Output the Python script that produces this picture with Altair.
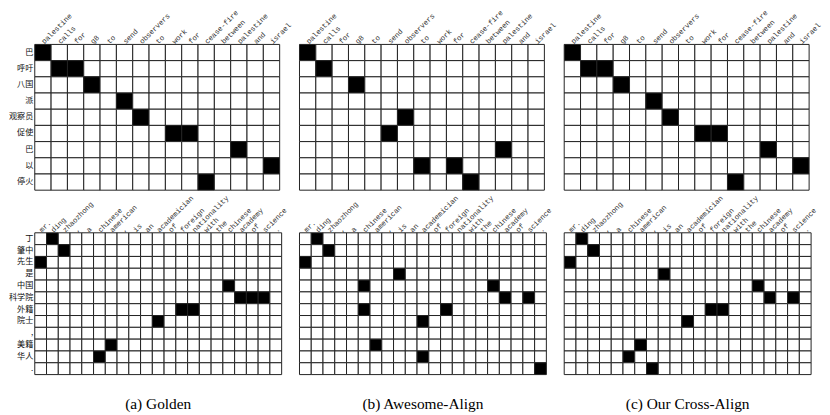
import json
import altair as alt
import pandas as pd

# ---------------- data ----------------
top_en = ["palestine", "calls", "for", "g8", "to", "send", "observers", "to",
          "work", "for", "cease-fire", "between", "palestine", "and", "israel"]
top_zh = ["巴", "呼吁", "八国", "派", "观察员", "促使", "巴", "以", "停火"]

bot_en = ["mr.", "ding", "zhaozhong", ",", "a", "chinese", "american", ",", "is",
          "an", "academician", "of", "foreign", "nationality", "with", "the",
          "chinese", "academy", "of", "science", "."]
bot_zh = ["丁", "肇中", "先生", "是", "中国", "科学院", "外籍", "院士", ",", "美籍", "华人", "."]

# aligned English column indices for each Chinese row
golden_top = [[0], [1, 2], [3], [5], [6], [8, 9], [12], [14], [10]]
awesome_top = [[0], [1], [3], [], [6], [5], [12], [7, 9], [10]]
cross_top = [[0], [1, 2], [3], [5], [6], [8, 9], [12], [14], [10]]

golden_bot = [[1], [2], [0], [], [16], [17, 18, 19], [12, 13], [10], [], [6], [5], []]
awesome_bot = [[1], [2], [0], [8], [5, 16], [17, 19], [5, 12], [10], [], [6], [10], [20]]
cross_bot = [[1], [2], [0], [8], [16], [17, 19], [12, 13], [10], [], [6], [5], [7]]

captions = ["(a) Golden", "(b) Awesome-Align", "(c) Our Cross-Align"]


def panel(en, zh, align, show_y, w, h, caption=None):
    rows = [{"i": i, "j": j, "v": int(i in align[j])}
            for j in range(len(zh)) for i in range(len(en))]
    df = pd.DataFrame(rows)
    xaxis = alt.Axis(orient="top", title=None, ticks=False, domain=False,
                     labelExpr=json.dumps(en) + "[datum.value]",
                     labelAngle=-45, labelAlign="left", labelBaseline="middle",
                     labelPadding=2, labelOverlap=False,
                     labelFont="Liberation Mono", labelFontSize=7.4,
                     labelColor="#333")
    if show_y:
        yaxis = alt.Axis(title=None, ticks=False, domain=False,
                         labelExpr=json.dumps(zh, ensure_ascii=False) + "[datum.value]",
                         labelPadding=2, labelOverlap=False,
                         labelFont="Noto Sans CJK SC", labelFontSize=8.2,
                         labelColor="#111")
    else:
        yaxis = None
    props = dict(width=w, height=h)
    if caption:
        props["title"] = alt.TitleParams(caption, orient="bottom", anchor="middle",
                                         font="Liberation Serif", fontSize=15.5,
                                         fontWeight="normal", color="#000", offset=22)
    return alt.Chart(df).mark_rect(stroke="#222", strokeWidth=1).encode(
        x=alt.X("i:O", axis=xaxis, scale=alt.Scale(paddingInner=0, paddingOuter=0)),
        y=alt.Y("j:O", axis=yaxis, scale=alt.Scale(paddingInner=0, paddingOuter=0)),
        color=alt.Color("v:O", scale=alt.Scale(domain=[0, 1], range=["white", "black"]),
                        legend=None),
    ).properties(**props)


panels = [
    panel(top_en, top_zh, golden_top, True, 247, 147),
    panel(top_en, top_zh, awesome_top, False, 247, 147),
    panel(top_en, top_zh, cross_top, False, 247, 147),
    panel(bot_en, bot_zh, golden_bot, True, 249, 143, captions[0]),
    panel(bot_en, bot_zh, awesome_bot, False, 249, 143, captions[1]),
    panel(bot_en, bot_zh, cross_bot, False, 249, 143, captions[2]),
]

chart = alt.concat(
    *panels, columns=3, spacing={"row": 43, "column": 18}, bounds="flush", align="none"
).properties(
    padding={"top": -2, "left": 0, "right": 0, "bottom": 0}
).configure_view(stroke=None)

chart.save("out.html", embed_options={"renderer": "svg", "actions": False})
